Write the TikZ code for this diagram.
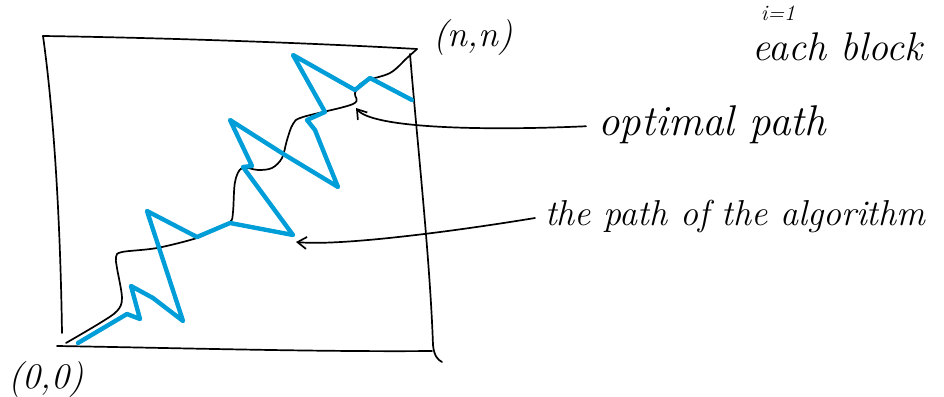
\documentclass[tikz,border=0pt]{standalone}
\usetikzlibrary{arrows.meta}
\definecolor{pathblue}{RGB}{0,158,216}
\tikzset{
  pen/.style={black,line width=1.7pt,line cap=round,line join=round},
  bluepen/.style={pathblue,line width=4.4pt,line cap=round,line join=round},
  hand/.style={font=\fontsize{38}{42}\selectfont\itshape,inner sep=0pt,anchor=base west},
  callout/.style={pen,-{Straight Barb[length=9pt,width=12pt]}}
}
\begin{document}
\begin{tikzpicture}[x=1pt,y=-1pt]
\useasboundingbox (0,0) rectangle (944,396);
% box
\draw[pen] (43,36) .. controls (180,38) and (330,44) .. (417,49);
\draw[pen] (43,36) .. controls (52,100) and (60,200) .. (62,333);
\draw[pen] (410,54) .. controls (418,150) and (430,260) .. (433,345) .. controls (434,356) and (438,360) .. (442,362);
\draw[pen] (57,346) .. controls (180,348) and (320,352) .. (432,351);
% optimal path
\draw[pen] plot[smooth,tension=0.55] coordinates {(66,343) (100,323) (117,311) (122,298) (117,268) (116,257) (122,252) (157,248) (197,238) (213,230) (230,222) (233,212) (235,182) (242,168) (258,170) (272,168) (282,158) (287,140) (293,124) (303,117) (353,104) (355,93) (363,82) (390,73) (407,58) (417,49)};
% algorithm path
\draw[bluepen] (78,343) -- (127,314) -- (140,319) -- (131,286) -- (153,298) -- (183,321) -- (147,211) -- (197,237) -- (230,223) -- (293,235) -- (243,167) -- (252,166) -- (230,120) -- (285,155) -- (338,187) -- (327,160) -- (315,130) -- (307,120) -- (325,112) -- (293,55) -- (355,90) -- (370,78) -- (412,100);
% labels
\node[hand,font=\fontsize{36}{40}\selectfont\itshape] (nn) at (433,46) {(n,n)};
\node[hand,font=\fontsize{36}{40}\selectfont\itshape] (oo) at (8,388) {(0,0)};
\node[font=\fontsize{22}{24}\selectfont\itshape,inner sep=0pt] (ii) at (778,13) {i=1};
\node[hand,font=\fontsize{40}{44}\selectfont\itshape] (eb) at (752,60) {each block};
\node[hand,font=\fontsize{43}{46}\selectfont\itshape] (opt) at (598,135) {optimal path};
\node[hand,font=\fontsize{36}{40}\selectfont\itshape] (alg) at (545,225) {the path of the algorithm};
\coordinate (optip) at (356,108);
\coordinate (algtip) at (296,242);
\draw[callout] ([xshift=-12pt,yshift=-2pt]opt.west) .. controls (480,131) and (372,128) .. (optip);
\draw[callout] ([xshift=-10pt,yshift=-2pt]alg.west) .. controls (450,232) and (340,246) .. (algtip);
\end{tikzpicture}
\end{document}
